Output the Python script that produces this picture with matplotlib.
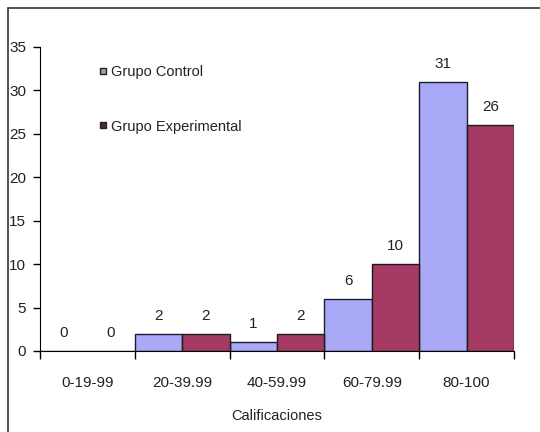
import matplotlib.pyplot as plt
from matplotlib.lines import Line2D
from matplotlib.patches import Rectangle
import numpy as np

categories = ['0-19-99', '20-39.99', '40-59.99', '60-79.99', '80-100']
control = [0, 2, 1, 6, 31]
experimental = [0, 2, 2, 10, 26]

plt.rcParams['font.family'] = ['Liberation Sans', 'DejaVu Sans']

fig = plt.figure(figsize=(5.4, 4.32), dpi=100)
ax = fig.add_axes([40 / 540, 1 - 351 / 432, 474 / 540, 304 / 432])

x = np.arange(len(categories))
w = 0.5
c1 = '#a9a9f8'
c2 = '#a53a64'
b1 = ax.bar(x - w / 2, control, w, color=c1, edgecolor='#1a1a33', linewidth=1)
b2 = ax.bar(x + w / 2, experimental, w, color=c2, edgecolor='#1a1a1a', linewidth=1)

for bars, vals in [(b1, control), (b2, experimental)]:
    for b, v in zip(bars, vals):
        ax.annotate(str(v), (b.get_x() + b.get_width() / 2, v), xytext=(0, 11),
                    textcoords='offset pixels', ha='center', va='bottom',
                    fontsize=11, color='#222222')

ax.set_xlim(-0.5, len(categories) - 0.5)
ax.set_ylim(0, 35)
ax.set_yticks(range(0, 36, 5))
ax.set_xticks(x)
ax.set_xticklabels(categories)
ax.set_xticks(np.arange(-0.5, len(categories), 1), minor=True)
ax.tick_params(axis='x', which='major', length=0, pad=18, labelsize=11, labelcolor='#222222')
ax.tick_params(axis='x', which='minor', length=6, width=1, direction='out')
ax.tick_params(axis='y', length=5, width=1, pad=5, labelsize=11, labelcolor='#222222')
ax.spines['top'].set_visible(False)
ax.spines['right'].set_visible(False)
ax.set_xlabel('Calificaciones', fontsize=10.5, labelpad=14, color='#222222')

handles = [
    Line2D([], [], linestyle='none', marker='s', markersize=5, markerfacecolor='#a0a0b0', markeredgecolor='#222222'),
    Line2D([], [], linestyle='none', marker='s', markersize=5, markerfacecolor='#4a2a38', markeredgecolor='#222222'),
]
ax.legend(handles, ['Grupo Control', 'Grupo Experimental'], loc='upper left',
          bbox_to_anchor=(0.095, 0.985), frameon=False, fontsize=10.5,
          labelspacing=2.8, handlelength=0.6, handletextpad=0.3,
          labelcolor='#222222')

fig.add_artist(Rectangle((8 / 540, -0.05), 1.0, 1 - 8 / 432 + 0.05,
                         transform=fig.transFigure, fill=False, lw=1.2, ec='#333333'))

fig.savefig('out.png', dpi=100)
